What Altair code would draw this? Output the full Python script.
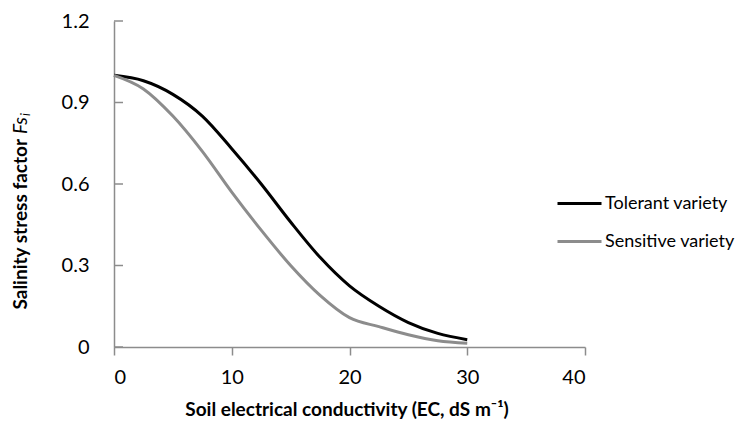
import altair as alt
import pandas as pd

# ---- data ----
ec = [0, 2.5, 5, 7.5, 10, 12.5, 15, 17.5, 20, 22.5, 25, 27.5, 30]
tolerant = [1.00, 0.98, 0.93, 0.85, 0.73, 0.60, 0.46, 0.33, 0.225, 0.15, 0.09, 0.05, 0.027]
sensitive = [1.00, 0.95, 0.85, 0.72, 0.57, 0.43, 0.30, 0.19, 0.108, 0.075, 0.045, 0.023, 0.014]
series_names = ["Tolerant variety", "Sensitive variety"]
series_colors = ["#000000", "#8c8c8c"]
x_ticks = [0, 10, 20, 30, 40]
y_ticks = [0, 0.3, 0.6, 0.9, 1.2]

FONT = "Lato"
GRAY = "#8c8c8c"

rows = []
for name, vals in zip(series_names, [tolerant, sensitive]):
    for x, v in zip(ec, vals):
        rows.append({"EC": x, "Fs": v, "Series": name})
df = pd.DataFrame(rows)

# plot area: x 114..585, y 21..347 (page pixels)
W, H = 471, 326

x_scale = alt.Scale(domain=[0, 40], nice=False, zero=True)
y_scale = alt.Scale(domain=[0, 1.2], nice=False)

lines = alt.Chart(df).mark_line(strokeWidth=3, interpolate="monotone").encode(
    x=alt.X("EC:Q", scale=x_scale,
            axis=alt.Axis(values=x_ticks, title=None, grid=False, tickSize=8,
                          labelPadding=12)),
    y=alt.Y("Fs:Q", scale=y_scale,
            axis=alt.Axis(values=y_ticks, title=None, grid=False, ticks=False,
                          labelPadding=25, labelFlush=False,
                          labelExpr="datum.value == 0 ? '0' : format(datum.value, '.1f')")),
    color=alt.Color("Series:N",
                    scale=alt.Scale(domain=series_names, range=series_colors),
                    legend=alt.Legend(title=None, orient="none", legendX=442, legendY=159,
                                      symbolType="stroke", symbolSize=1936,
                                      symbolStrokeWidth=3, labelFontSize=18,
                                      labelFont=FONT, labelColor="black",
                                      labelOffset=2, rowPadding=5)),
)

tick_df = pd.DataFrame({"t": y_ticks})
yticks = alt.Chart(tick_df).mark_rule(color=GRAY, strokeWidth=1.5).encode(
    y=alt.Y("t:Q", scale=y_scale),
    x=alt.value(0), x2=alt.value(9),
)

# y-axis title pieces (mixed styles)
ytitle1 = alt.Chart(pd.DataFrame({"t": ["Salinity stress factor"]})).mark_text(
    font=FONT, fontSize=19, fontWeight="bold", angle=270, align="right",
    baseline="middle", color="black").encode(
    text="t:N", x=alt.value(-93), y=alt.value(118))
ytitle2 = alt.Chart(pd.DataFrame({"t": ["Fs"]})).mark_text(
    font=FONT, fontSize=19, fontStyle="italic", angle=270, align="left",
    baseline="middle", color="black").encode(
    text="t:N", x=alt.value(-93), y=alt.value(113))
ytitle3 = alt.Chart(pd.DataFrame({"t": ["i"]})).mark_text(
    font=FONT, fontSize=13, fontStyle="italic", angle=270, align="left",
    baseline="middle", color="black").encode(
    text="t:N", x=alt.value(-88), y=alt.value(95))

xtitle = alt.Chart(pd.DataFrame({"t": ["Soil electrical conductivity (EC, dS m\u207b\u00b9)"]})).mark_text(
    font=FONT, fontSize=19, fontWeight="bold", align="center",
    baseline="middle", color="black").encode(
    text="t:N", x=alt.value(233), y=alt.value(389))

chart = alt.layer(lines, yticks, ytitle1, ytitle2, ytitle3, xtitle).properties(
    width=W, height=H,
    autosize=alt.AutoSizeParams(type="none"),
    padding={"left": 106, "top": 13, "right": 157, "bottom": 78},
).configure_view(stroke=None).configure_axis(
    labelFont=FONT, labelFontSize=20, labelColor="black",
    domainColor=GRAY, domainWidth=1.5, tickColor=GRAY, tickWidth=1.5,
)

chart.save("out.html", embed_options={"renderer": "svg", "actions": False})
